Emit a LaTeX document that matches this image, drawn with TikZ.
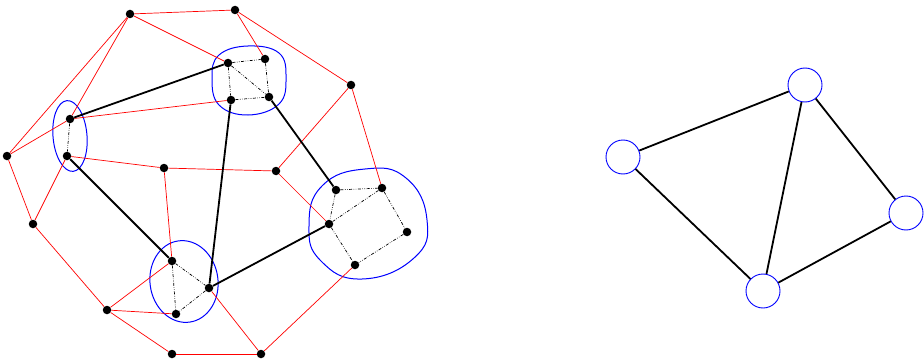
\documentclass[tikz,border=0pt]{standalone}
\begin{document}
\begin{tikzpicture}[x=1pt,y=-1pt,
  dot/.style={circle,fill=black,inner sep=0pt,minimum size=8.5pt},
  cnode/.style={circle,draw=blue,line width=0.9pt,inner sep=0pt,minimum size=34pt},
  redge/.style={red,line width=0.7pt},
  bedge/.style={black,line width=1.8pt},
  dedge/.style={black,line width=0.7pt,dash pattern=on 3pt off 1.5pt on 0.6pt off 1.5pt on 0.6pt off 1.5pt},
  blob/.style={blue,line width=1pt},
  gedge/.style={black,line width=1.8pt}]
\useasboundingbox (0,0) rectangle (924,361);
% blue groups
\draw[blob] (70,136) ellipse[x radius=17,y radius=35.5,rotate=5];
\draw[blob] plot[smooth cycle,tension=0.7] coordinates {(212,78) (219,55) (248,46) (279,53) (286,78) (279,104) (248,115) (219,105)};
\draw[blob] (184,281.5) ellipse[x radius=34,y radius=41,rotate=8];
\draw[blob] plot[smooth cycle,tension=0.8] coordinates {(309,226) (322,186) (365,169) (406,178) (427,220) (414,258) (362,279) (321,261)};
% outer nodes
\node[dot] (A) at (130,14) {};
\node[dot] (B) at (235,10) {};
\node[dot] (C) at (351,85) {};
\node[dot] (D) at (7,156) {};
\node[dot] (E) at (33,224) {};
\node[dot] (F) at (107,310) {};
\node[dot] (G) at (172,354) {};
\node[dot] (H) at (261,354) {};
\node[dot] (M1) at (164,168) {};
\node[dot] (M2) at (276,171) {};
% clusters
\node[dot] (P1) at (70,119) {};
\node[dot] (P2) at (67,156) {};
\node[dot] (Q1) at (228,63) {};
\node[dot] (Q2) at (265,59) {};
\node[dot] (Q3) at (231,100) {};
\node[dot] (Q4) at (269,97) {};
\node[dot] (R1) at (172,261) {};
\node[dot] (R2) at (209,288) {};
\node[dot] (R3) at (176,314) {};
\node[dot] (S1) at (336,190) {};
\node[dot] (S2) at (382,188) {};
\node[dot] (S3) at (407,232) {};
\node[dot] (S4) at (329,224) {};
\node[dot] (S5) at (355,265) {};
% red edges
\draw[redge] (A) -- (B);
\draw[redge] (A) -- (Q1);
\draw[redge] (A) -- (P1);
\draw[redge] (A) -- (D);
\draw[redge] (D) -- (P1);
\draw[redge] (D) -- (E);
\draw[redge] (E) -- (P2);
\draw[redge] (E) -- (F);
\draw[redge] (F) -- (R1);
\draw[redge] (F) -- (R3);
\draw[redge] (F) -- (G);
\draw[redge] (G) -- (H);
\draw[redge] (H) -- (R2);
\draw[redge] (H) -- (S5);
\draw[redge] (S4) -- (M2);
\draw[redge] (M2) -- (C);
\draw[redge] (M2) -- (M1);
\draw[redge] (M1) -- (P2);
\draw[redge] (M1) -- (R1);
\draw[redge] (P1) -- (Q3);
\draw[redge] (B) -- (Q2);
\draw[redge] (B) -- (C);
\draw[redge] (C) -- (S2);
% thick black edges
\draw[bedge] (P1) -- (Q1);
\draw[bedge] (P2) -- (R1);
\draw[bedge] (Q3) -- (R2);
\draw[bedge] (Q4) -- (S1);
\draw[bedge] (R2) -- (S4);
% dash-dot edges
\draw[dedge] (P1) -- (P2);
\draw[dedge] (Q1) -- (Q2);
\draw[dedge] (Q1) -- (Q3);
\draw[dedge] (Q1) -- (Q4);
\draw[dedge] (Q2) -- (Q4);
\draw[dedge] (Q3) -- (Q4);
\draw[dedge] (R1) -- (R2);
\draw[dedge] (R1) -- (R3);
\draw[dedge] (R2) -- (R3);
\draw[dedge] (S1) -- (S2);
\draw[dedge] (S1) -- (S4);
\draw[dedge] (S2) -- (S4);
\draw[dedge] (S2) -- (S3);
\draw[dedge] (S3) -- (S5);
\draw[dedge] (S4) -- (S5);
% quotient graph
\node[cnode] (T1) at (623,157) {};
\node[cnode] (T2) at (805,85) {};
\node[cnode] (T3) at (906,213) {};
\node[cnode] (T4) at (763,291) {};
\draw[gedge] (T1) -- (T2);
\draw[gedge] (T1) -- (T4);
\draw[gedge] (T2) -- (T4);
\draw[gedge] (T2) -- (T3);
\draw[gedge] (T3) -- (T4);
\end{tikzpicture}
\end{document}
